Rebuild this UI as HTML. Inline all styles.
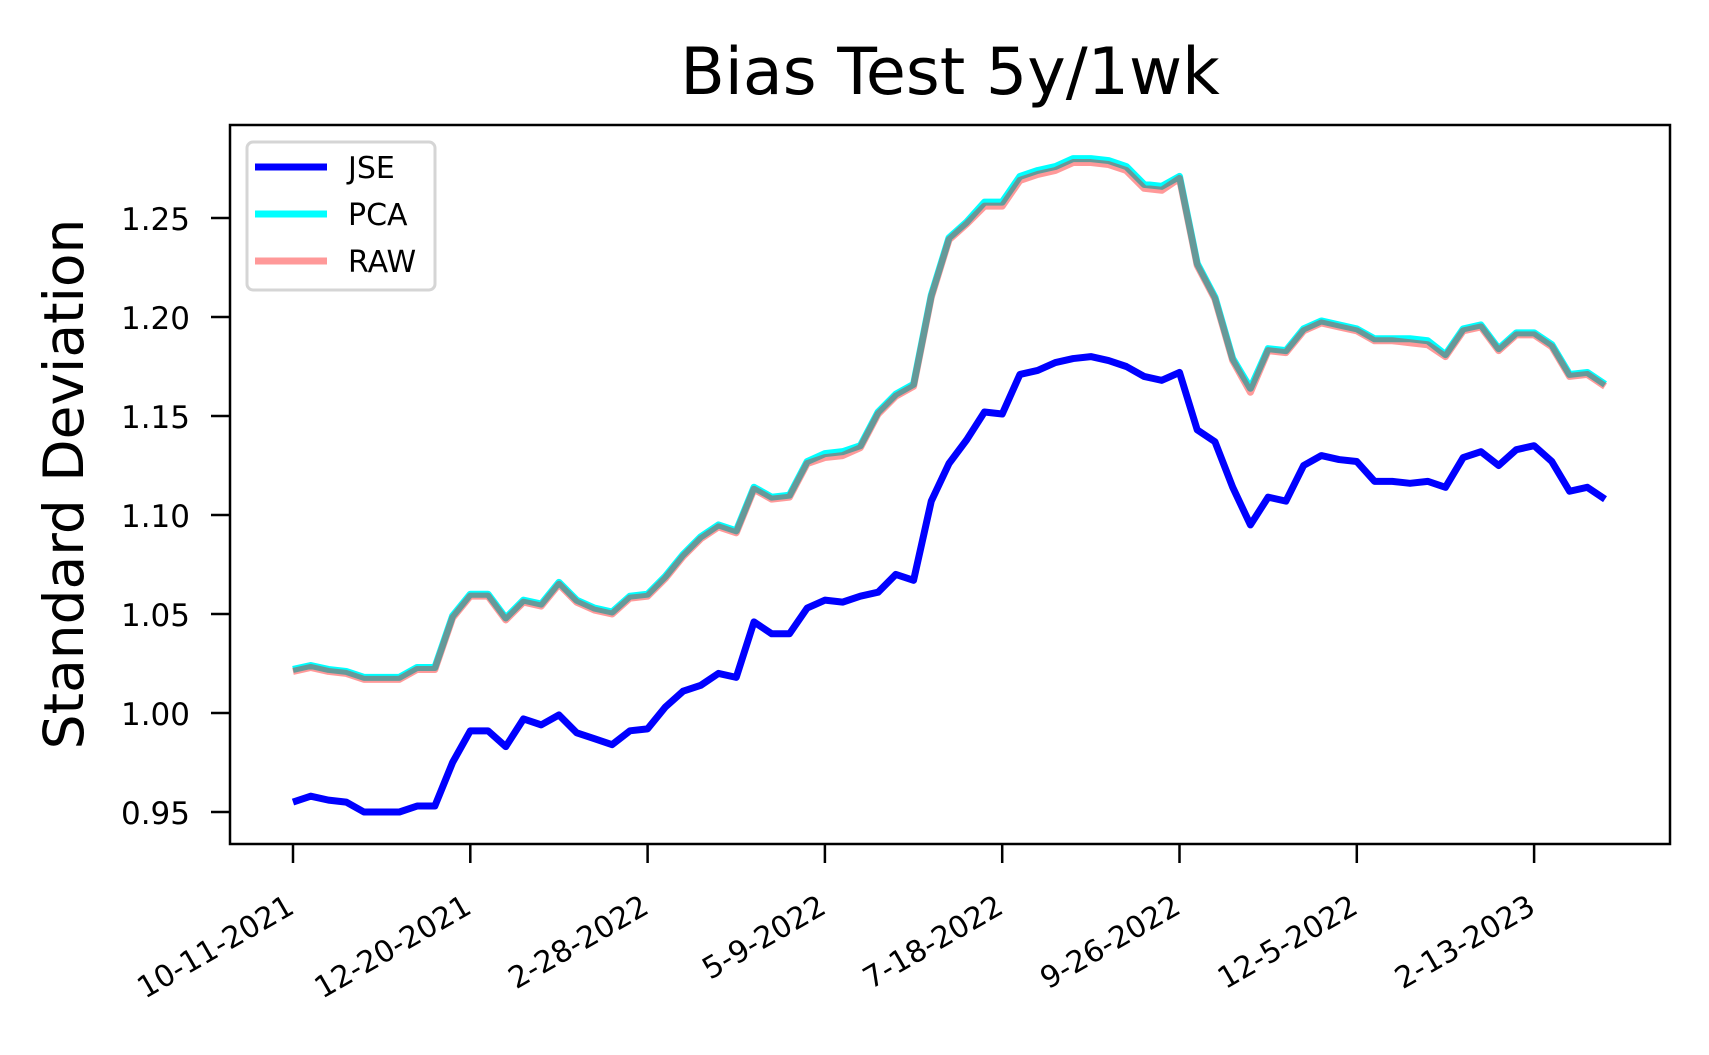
<!DOCTYPE html>
<html><head><meta charset="utf-8"><style>
body{margin:0;background:#fff;}
svg text{font-family:"DejaVu Sans","Liberation Sans",sans-serif;}
</style></head><body>
<svg width="1709" height="1050" viewBox="0 0 1709 1050" xmlns="http://www.w3.org/2000/svg">
<text x="950" y="94" font-size="65" text-anchor="middle">Bias Test 5y/1wk</text>
<text transform="translate(83,484) rotate(-90)" font-size="55" text-anchor="middle">Standard Deviation</text>
<g id="plot"></g>
<g id="axes"></g>
<rect x="230" y="125" width="1440" height="719" fill="none" stroke="#000" stroke-width="2.5"/>
<g>
<rect x="247" y="142" width="188" height="148" rx="6" fill="#fff" fill-opacity="0.8" stroke="#d5d5d5" stroke-width="3"/>
<g><line x1="255" y1="167" x2="327" y2="167" stroke="#0000ff" stroke-width="7"/><text x="348" y="178" font-size="30">JSE</text></g>
<g><line x1="255" y1="214" x2="327" y2="214" stroke="#00ffff" stroke-width="7"/><text x="348" y="225" font-size="30">PCA</text></g>
<g><line x1="255" y1="261" x2="327" y2="261" stroke="#ff0000" stroke-opacity="0.4" stroke-width="7"/><text x="348" y="272" font-size="30">RAW</text></g>
</g>
</svg>
<script>
const jse=[0.955,0.958,0.956,0.955,0.950,0.950,0.950,0.953,0.953,0.975,0.991,0.991,0.983,0.997,0.994,0.999,0.990,0.987,0.984,0.991,0.992,1.003,1.011,1.014,1.020,1.018,1.046,1.040,1.040,1.053,1.057,1.056,1.059,1.061,1.070,1.067,1.107,1.126,1.138,1.152,1.151,1.171,1.173,1.177,1.179,1.180,1.178,1.175,1.170,1.168,1.172,1.143,1.137,1.114,1.095,1.109,1.107,1.125,1.130,1.128,1.127,1.117,1.117,1.116,1.117,1.114,1.129,1.132,1.125,1.133,1.135,1.127,1.112,1.114,1.108];
const pca=[1.022,1.024,1.022,1.021,1.018,1.018,1.018,1.023,1.023,1.049,1.060,1.060,1.048,1.057,1.055,1.066,1.057,1.053,1.051,1.059,1.060,1.069,1.080,1.089,1.095,1.092,1.114,1.109,1.110,1.127,1.131,1.132,1.135,1.152,1.161,1.166,1.211,1.240,1.248,1.258,1.258,1.271,1.274,1.276,1.280,1.280,1.279,1.276,1.267,1.266,1.271,1.227,1.210,1.179,1.164,1.184,1.183,1.194,1.198,1.196,1.194,1.189,1.189,1.189,1.188,1.181,1.194,1.196,1.184,1.192,1.192,1.186,1.171,1.172,1.166];
const raw=[1.021,1.023,1.021,1.020,1.017,1.017,1.017,1.022,1.022,1.048,1.059,1.059,1.047,1.056,1.054,1.065,1.056,1.052,1.050,1.058,1.059,1.068,1.079,1.088,1.094,1.091,1.113,1.108,1.109,1.126,1.129,1.130,1.134,1.151,1.160,1.165,1.210,1.239,1.247,1.256,1.256,1.269,1.272,1.274,1.278,1.278,1.277,1.274,1.265,1.264,1.270,1.226,1.209,1.178,1.162,1.183,1.182,1.193,1.197,1.195,1.193,1.188,1.188,1.187,1.186,1.180,1.193,1.195,1.183,1.191,1.191,1.185,1.170,1.171,1.165];
const yTicks=[0.95,1.00,1.05,1.10,1.15,1.20,1.25];
const yTickLabels=["0.95","1.00","1.05","1.10","1.15","1.20","1.25"];
const xTickIdx=[0,10,20,30,40,50,60,70];
const xTickLabels=["10-11-2021","12-20-2021","2-28-2022","5-9-2022","7-18-2022","9-26-2022","12-5-2022","2-13-2023"];
const NS="http://www.w3.org/2000/svg";
function X(i){return 293+i*17.73;}
function Y(v){return 812-(v-0.95)*(594/0.30);}
const plot=document.getElementById('plot'),axes=document.getElementById('axes');
function line(arr,color,op,w,name){
 const p=document.createElementNS(NS,'polyline');
 p.setAttribute('points',arr.map((v,i)=>X(i)+','+Y(v)).join(' '));
 p.setAttribute('fill','none');p.setAttribute('stroke',color);p.setAttribute('stroke-opacity',op);
 p.setAttribute('stroke-width',w);p.setAttribute('stroke-linejoin','round');
 
 
 plot.appendChild(p);
}
line(jse,'#0000ff',1,7,'jse-line');
line(pca,'#00ffff',1,7,'pca-line');
line(raw,'#ff0000',0.4,7,'raw-line');
yTicks.forEach((t,k)=>{
 const y=Y(t);
 const l=document.createElementNS(NS,'line');
 l.setAttribute('x1',211);l.setAttribute('x2',230);l.setAttribute('y1',y);l.setAttribute('y2',y);l.setAttribute('stroke','#000');l.setAttribute('stroke-width',2.5);
 
 
 axes.appendChild(l);
 const tx=document.createElementNS(NS,'text');
 tx.setAttribute('x',190);tx.setAttribute('y',y+12);tx.setAttribute('font-size',31);tx.setAttribute('text-anchor','end');
 tx.textContent=yTickLabels[k];
 
 
 axes.appendChild(tx);
});
xTickIdx.forEach((idx,k)=>{
 const x=X(idx);
 const l=document.createElementNS(NS,'line');
 l.setAttribute('x1',x);l.setAttribute('x2',x);l.setAttribute('y1',844);l.setAttribute('y2',863);l.setAttribute('stroke','#000');l.setAttribute('stroke-width',2.5);
 
 
 axes.appendChild(l);
 const tx=document.createElementNS(NS,'text');
 tx.setAttribute('transform','translate('+(x+3)+',912) rotate(-30)');
 tx.setAttribute('font-size',30);tx.setAttribute('text-anchor','end');
 tx.textContent=xTickLabels[k];
 
 
 axes.appendChild(tx);
});
</script>
</body></html>
